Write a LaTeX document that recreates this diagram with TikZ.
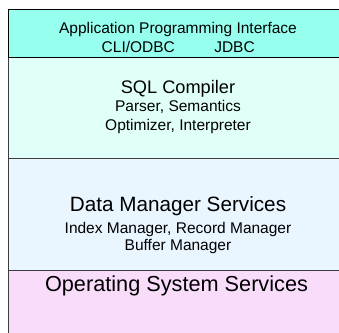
\documentclass[tikz,border=0pt]{standalone}
\usepackage{fontspec}
\setmainfont{Liberation Sans}
\definecolor{apicol}{RGB}{150,255,238}
\definecolor{sqlcol}{RGB}{224,255,248}
\definecolor{dmcol}{RGB}{234,246,255}
\definecolor{oscol}{RGB}{248,220,250}
\definecolor{edgecol}{RGB}{60,60,60}
\tikzset{
  layer/.style={draw=edgecol, line width=1pt},
  small/.style={anchor=base, inner sep=0pt, font=\fontsize{15.5}{18}\selectfont},
  mid/.style={anchor=base, inner sep=0pt, font=\fontsize{18.2}{21}\selectfont},
  big/.style={anchor=base, inner sep=0pt, font=\fontsize{20.7}{24}\selectfont},
  huge/.style={anchor=base, inner sep=0pt, font=\fontsize{21.7}{25}\selectfont}
}
\begin{document}
\begin{tikzpicture}[x=1pt,y=1pt]
\useasboundingbox (0,0) rectangle (339,332);
\fill[white] (0,0) rectangle (339,332);
\filldraw[layer, fill=oscol] (8.5,-5) rectangle (345,62);
\filldraw[layer, fill=dmcol] (8.5,62) rectangle (345,173);
\filldraw[layer, fill=sqlcol] (8.5,173) rectangle (345,274);
\filldraw[layer, draw=black, fill=apicol] (8.5,274) rectangle (345,322);
\node[small] (api) at (178,298.5) {Application Programming Interface};
\node[small] (cli) at (138.3,279.7) {CLI/ODBC};
\node[small] (jdbc) at (234.5,279.7) {JDBC};
\node[mid] (sql) at (178,238.7) {SQL Compiler};
\node[small] (parser) at (178,220.5) {Parser, Semantics};
\node[small] (opt) at (178,201.5) {Optimizer, Interpreter};
\node[big] (dm) at (178,120.3) {Data Manager Services};
\node[small] (idx) at (178,98.7) {Index Manager, Record Manager};
\node[small] (buf) at (178,82) {Buffer Manager};
\node[huge] (os) at (176.5,41) {Operating System Services};
\end{tikzpicture}
\end{document}
